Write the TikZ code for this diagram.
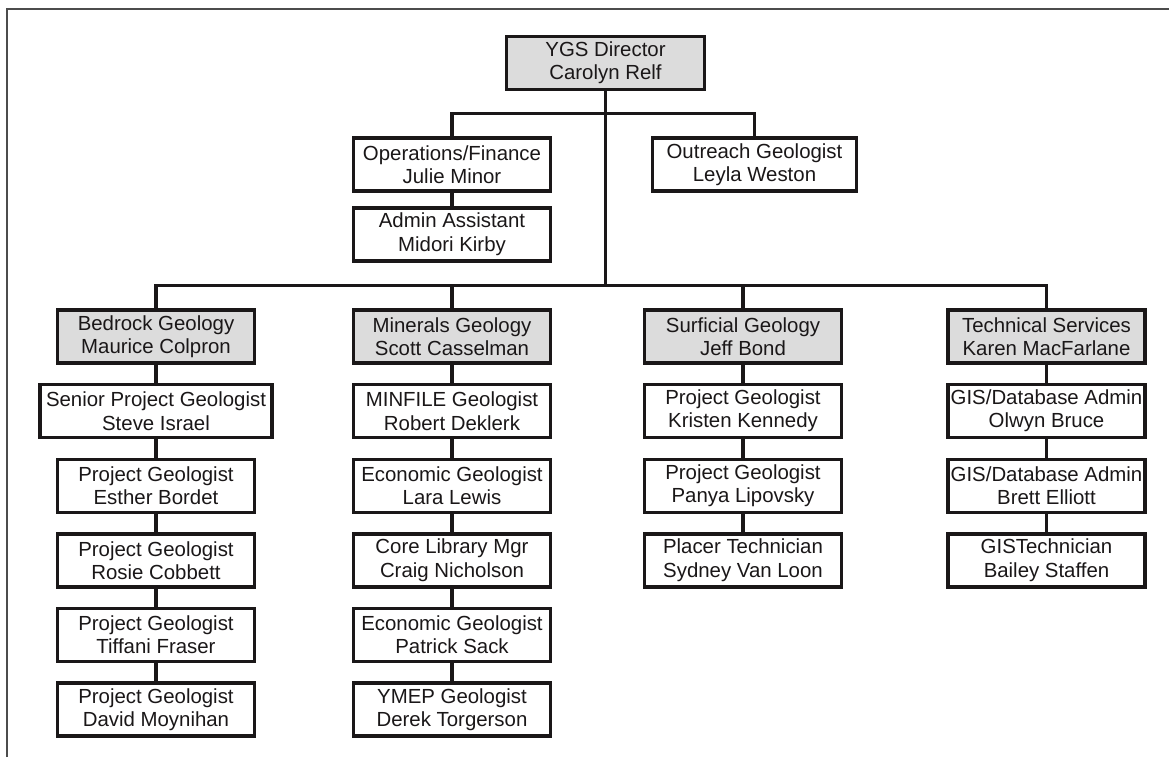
\documentclass[tikz,border=0pt]{standalone}
\usepackage{fontspec}
\setmainfont{Liberation Sans}
\usepackage{xcolor}
\usetikzlibrary{positioning,calc}
\definecolor{ink}{HTML}{1A1718}
\definecolor{headgray}{HTML}{DCDCDC}

\begin{document}
\begin{tikzpicture}[x=0.5pt, y=-0.5pt, node distance=10.8pt, outer sep=0pt,
    box/.style={draw=ink, line width=1.7pt, fill=white, rectangle, minimum width=98.5pt, minimum height=26.5pt, inner sep=0pt, align=center, text=ink, font=\fontsize{10.2}{11.6}\selectfont},
    headbox/.style={box, fill=headgray},
    link/.style={draw=ink, line width=1.7pt}]
    \useasboundingbox (0,0) rectangle (1169,757);
    \draw [black!70, line width=0.9pt] (7,757) -- (7,9) -- (1169,9);

    % director and staff
    \node [headbox, minimum width=99pt] (dir) at (605.5,63) {YGS Director\\Carolyn Relf};
    \node [box] (ops) at (452,164.5) {Operations/Finance\\Julie Minor};
    \node [box, below=8.4pt of ops] (adm) {Admin Assistant\\Midori Kirby};
    \node [box, minimum width=102pt] (out) at (754.5,164.5) {Outreach Geologist\\Leyla Weston};

    % section heads
    \node [headbox] (bed) at (156,336.5) {Bedrock Geology\\Maurice Colpron};
    \node [headbox] (min) at (452,336.5) {Minerals Geology\\Scott Casselman};
    \node [headbox] (sur) at (743,336.5) {Surficial Geology\\Jeff Bond};
    \node [headbox] (tec) at (1046.5,336.5) {Technical Services\\Karen MacFarlane};

    % bedrock
    \node [box, minimum width=116pt, below=of bed] (bed1) {Senior Project Geologist\\Steve Israel};
    \node [box, below=of bed1] (bed2) {Project Geologist\\Esther Bordet};
    \node [box, below=of bed2] (bed3) {Project Geologist\\Rosie Cobbett};
    \node [box, below=of bed3] (bed4) {Project Geologist\\Tiffani Fraser};
    \node [box, below=of bed4] (bed5) {Project Geologist\\David Moynihan};

    % minerals
    \node [box, below=of min] (min1) {MINFILE Geologist\\Robert Deklerk};
    \node [box, below=of min1] (min2) {Economic Geologist\\Lara Lewis};
    \node [box, below=of min2] (min3) {Core Library Mgr\\Craig Nicholson};
    \node [box, below=of min3] (min4) {Economic Geologist\\Patrick Sack};
    \node [box, below=of min4] (min5) {YMEP Geologist\\Derek Torgerson};

    % surficial
    \node [box, below=of sur] (sur1) {Project Geologist\\Kristen Kennedy};
    \node [box, below=of sur1] (sur2) {Project Geologist\\Panya Lipovsky};
    \node [box, below=of sur2] (sur3) {Placer Technician\\Sydney Van Loon};

    % technical
    \node [box, below=of tec] (tec1) {GIS/Database Admin\\Olwyn Bruce};
    \node [box, below=of tec1] (tec2) {GIS/Database Admin\\Brett Elliott};
    \node [box, below=of tec2] (tec3) {GISTechnician\\Bailey Staffen};

    % connectors
    \coordinate (topbus) at ($(dir.south)!0.5!(dir.south |- ops.north)$);
    \coordinate (lowbus) at ($(adm.south)!0.5!(adm.south |- bed.north)$);
    \draw [link] (dir.south) -- (dir.south |- lowbus);
    \draw [link] (ops.north) |- (topbus) -| (out.north);
    \draw [link] (ops) -- (adm);
    \draw [link] (bed.north) |- (lowbus) -| (tec.north);
    \draw [link] (min.north) -- (min.north |- lowbus);
    \draw [link] (sur.north) -- (sur.north |- lowbus);
    \draw [link] (bed) -- (bed1) (bed1) -- (bed2) (bed2) -- (bed3) (bed3) -- (bed4) (bed4) -- (bed5);
    \draw [link] (min) -- (min1) (min1) -- (min2) (min2) -- (min3) (min3) -- (min4) (min4) -- (min5);
    \draw [link] (sur) -- (sur1) (sur1) -- (sur2) (sur2) -- (sur3);
    \draw [link] (tec) -- (tec1) (tec1) -- (tec2) (tec2) -- (tec3);
\end{tikzpicture}
\end{document}
